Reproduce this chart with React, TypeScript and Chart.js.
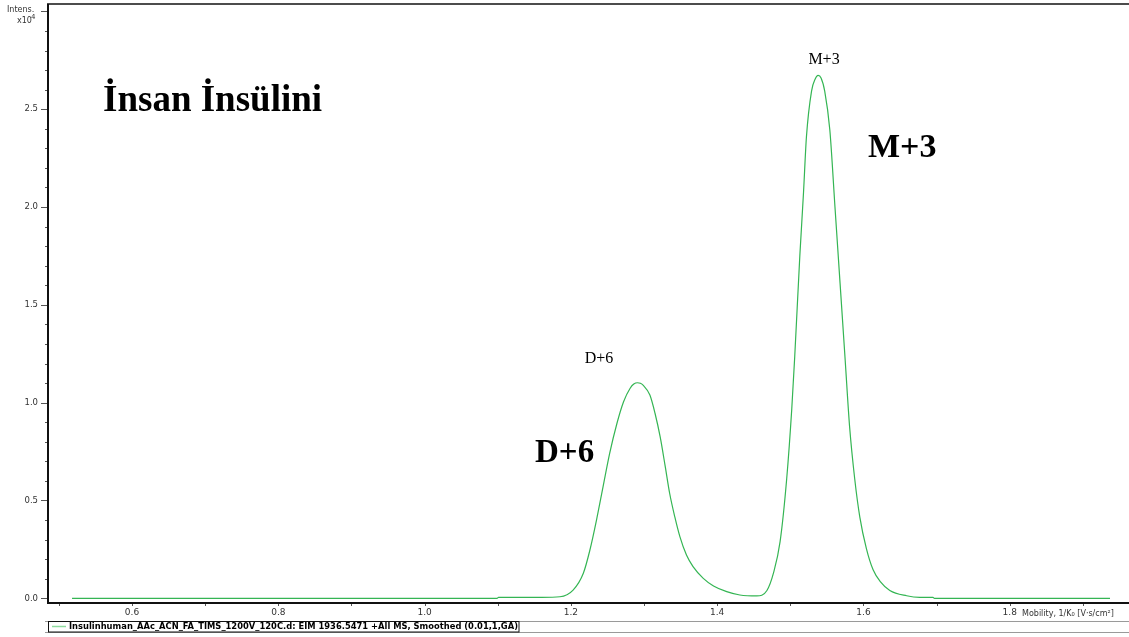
import { useEffect, useRef } from "react";
import { Chart, registerables } from "chart.js";

Chart.register(...registerables);

// Mobility 1/K0 [V·s/cm²]
const mobility = [
  0.518, 0.9, 1.099, 1.101, 1.16,
  1.185, 1.203, 1.217, 1.226, 1.235, 1.244, 1.253, 1.263, 1.272, 1.281, 1.286, 1.291,
  1.295, 1.299, 1.308, 1.315, 1.322, 1.329, 1.335, 1.342, 1.349, 1.358, 1.367, 1.381,
  1.395, 1.413, 1.431, 1.454,
  1.468, 1.477, 1.486, 1.495, 1.502, 1.506, 1.513, 1.518, 1.522, 1.529, 1.534, 1.538,
  1.542, 1.547, 1.554, 1.561, 1.568, 1.575, 1.581, 1.588, 1.595, 1.604, 1.613, 1.623,
  1.636, 1.659, 1.677, 1.695, 1.697, 1.8, 1.937,
];

// Intensity (x10^4)
const intensity = [
  0.0, 0.0, 0.0, 0.005, 0.005,
  0.008, 0.042, 0.128, 0.247, 0.40, 0.571, 0.741, 0.895, 1.005, 1.074, 1.095, 1.102,
  1.099, 1.088, 1.039, 0.946, 0.826, 0.673, 0.537, 0.417, 0.315, 0.221, 0.162, 0.102,
  0.063, 0.034, 0.017, 0.012,
  0.04, 0.13, 0.29, 0.61, 0.97, 1.235, 1.752, 2.073, 2.358, 2.593, 2.655, 2.673,
  2.66, 2.593, 2.394, 2.002, 1.61, 1.217, 0.878, 0.611, 0.415, 0.254, 0.147, 0.085,
  0.04, 0.013, 0.005, 0.005, 0.0, 0.0, 0.0,
];

const xTickLabels = ["0.6", "0.8", "1.0", "1.2", "1.4", "1.6", "1.8"];
const yTickLabels = ["0.0", "0.5", "1.0", "1.5", "2.0", "2.5"];

const seriesLabel =
  "Insulinhuman_AAc_ACN_FA_TIMS_1200V_120C.d: EIM 1936.5471 +All MS, Smoothed (0.01,1,GA)";
const titleText = "İnsan İnsülini";
const peakLabels = ["M+3", "D+6"];
const xAxisTitle = "Mobility, 1/K₀ [V·s/cm²]";

const fmt = (v: number) => (Math.abs(v) < 1e-9 ? 0 : v).toFixed(1);

const decorPlugin = {
  id: "decor",
  afterDraw(chart: any) {
    const ctx = chart.ctx as CanvasRenderingContext2D;
    const { left, top, right, bottom } = chart.chartArea;
    const xs = chart.scales.x;
    const ys = chart.scales.y;
    ctx.save();

    // tick marks
    ctx.strokeStyle = "#555";
    ctx.lineWidth = 1;
    ctx.beginPath();
    ys.ticks.forEach((t: any) => {
      const py = Math.round(ys.getPixelForValue(t.value)) + 0.5;
      const major = Math.abs(t.value * 2 - Math.round(t.value * 2)) < 1e-6;
      ctx.moveTo(left - (major ? 8 : 4), py);
      ctx.lineTo(left, py);
    });
    xs.ticks.forEach((t: any) => {
      const px = Math.round(xs.getPixelForValue(t.value)) + 0.5;
      ctx.moveTo(px, bottom);
      ctx.lineTo(px, bottom + 3);
    });
    ctx.stroke();

    // plot frame
    ctx.strokeStyle = "#111";
    ctx.lineWidth = 2;
    ctx.beginPath();
    ctx.moveTo(left - 1, top);
    ctx.lineTo(left - 1, bottom);
    ctx.lineTo(right, bottom);
    ctx.stroke();
    ctx.lineWidth = 1.5;
    ctx.beginPath();
    ctx.moveTo(left - 2, top);
    ctx.lineTo(right, top);
    ctx.stroke();

    // axis texts
    ctx.fillStyle = "#333";
    ctx.textAlign = "left";
    ctx.textBaseline = "alphabetic";
    ctx.font = '8px "DejaVu Sans"';
    ctx.fillText("Intens.", 7, 11.7);
    ctx.fillText("x10", 17, 23);
    ctx.font = '7px "DejaVu Sans"';
    ctx.fillText("4", 31, 19.3);
    ctx.font = '8px "DejaVu Sans"';
    ctx.textBaseline = "middle";
    ctx.fillText(xAxisTitle, 1022, 613.5, 106);

    // legend frame
    ctx.strokeStyle = "#9a9a9a";
    ctx.lineWidth = 1;
    ctx.beginPath();
    ctx.moveTo(45, 621.5);
    ctx.lineTo(1129, 621.5);
    ctx.moveTo(45, 632.5);
    ctx.lineTo(1129, 632.5);
    ctx.stroke();
    ctx.strokeStyle = "#111";
    ctx.strokeRect(48.5, 621.5, 470.5, 10.5);
    ctx.strokeStyle = "#8fdc9f";
    ctx.lineWidth = 1.5;
    ctx.beginPath();
    ctx.moveTo(52, 626.5);
    ctx.lineTo(66, 626.5);
    ctx.stroke();
    ctx.fillStyle = "#000";
    ctx.font = 'bold 8.5px "DejaVu Sans"';
    ctx.textBaseline = "middle";
    ctx.fillText(seriesLabel, 69, 626.8, 449);

    // annotations
    ctx.fillStyle = "#000";
    ctx.textBaseline = "alphabetic";
    ctx.textAlign = "left";
    ctx.font = 'bold 37px "Liberation Serif"';
    ctx.fillText(titleText, 103, 111);
    ctx.font = 'bold 34px "Liberation Serif"';
    ctx.fillText(peakLabels[0], 868, 157);
    ctx.font = 'bold 33px "Liberation Serif"';
    ctx.fillText(peakLabels[1], 535, 462);
    ctx.font = '16px "Liberation Serif"';
    ctx.textAlign = "center";
    ctx.fillText(peakLabels[0], 824, 63.5);
    ctx.fillText(peakLabels[1], 599, 362.5);

    ctx.restore();
  },
};

export default function App() {
  const ref = useRef<HTMLCanvasElement | null>(null);

  useEffect(() => {
    if (!ref.current) return;
    const chart = new Chart(ref.current, {
      type: "line",
      data: {
        datasets: [
          {
            label: seriesLabel,
            data: mobility.map((m, i) => ({ x: m, y: intensity[i] })),
            borderColor: "#34b553",
            borderWidth: 1.2,
            pointRadius: 0,
            fill: false,
            cubicInterpolationMode: "monotone",
          },
        ],
      },
      options: {
        animation: false,
        responsive: false,
        devicePixelRatio: 1,
        layout: { padding: { top: 4, left: 0, right: 0, bottom: 0 } },
        plugins: {
          legend: { display: false },
          tooltip: { enabled: false },
        },
        scales: {
          x: {
            type: "linear",
            min: 0.4865,
            max: 1.963,
            grid: { display: false, drawTicks: false },
            border: { display: false },
            afterFit: (s: any) => {
              s.height = 34;
              s.paddingLeft = 0;
              s.paddingRight = 0;
            },
            ticks: {
              stepSize: 0.1,
              includeBounds: false,
              autoSkip: false,
              maxRotation: 0,
              padding: 4,
              color: "#333",
              font: { family: "DejaVu Sans", size: 9 },
              callback: (v: any) => {
                const s = fmt(Number(v));
                return xTickLabels.includes(s) ? s : "";
              },
            },
          },
          y: {
            type: "linear",
            min: -0.024,
            max: 3.038,
            grid: { display: false, drawTicks: false },
            border: { display: false },
            afterFit: (s: any) => {
              s.width = 49;
              s.paddingTop = 0;
              s.paddingBottom = 0;
            },
            ticks: {
              stepSize: 0.1,
              includeBounds: false,
              autoSkip: false,
              padding: 11,
              color: "#333",
              font: { family: "DejaVu Sans", size: 8.5 },
              callback: (v: any) => {
                const s = fmt(Number(v));
                return yTickLabels.includes(s) ? s : "";
              },
            },
          },
        },
      },
      plugins: [decorPlugin],
    } as any);
    return () => chart.destroy();
  }, []);

  return (
    <div
      style={{
        position: "fixed",
        left: 0,
        top: 0,
        width: 1129,
        height: 637,
        background: "#fff",
      }}
    >
      <canvas ref={ref} width={1129} height={637} />
    </div>
  );
}
